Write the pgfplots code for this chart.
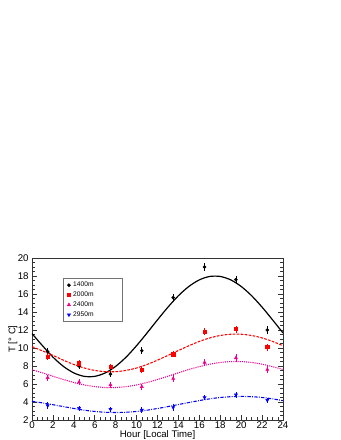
\documentclass[border=0pt]{standalone}
\usepackage{fontspec}
\setmainfont{Liberation Sans}
\usepackage{pgfplots}
\pgfplotsset{compat=1.18}
\begin{document}
\begin{tikzpicture}
\begin{axis}[
  at={(0,0)}, anchor=south west,
  scale only axis, width=188.25pt, height=121.5pt,
  xmin=0, xmax=24, ymin=2, ymax=20,
  xtick={0,2,...,24}, ytick={2,4,...,20},
  minor x tick num=3, minor y tick num=3,
  tick align=inside,
  major tick length=4pt, minor tick length=2pt,
  xtick pos=bottom, ytick pos=both,
  tick style={black!80, line width=0.4pt},
  axis line style={black!80, line width=0.6pt},
  /pgf/number format/assume math mode=true,
  ticklabel style={font=\fontsize{7.3}{8}\selectfont},
  xticklabel style={yshift=2.5pt},
  yticklabel style={xshift=1pt},
  xlabel={Hour [Local Time]},
  ylabel={T [° C]},
  label style={font=\fontsize{7.2}{8}\selectfont},
  xlabel style={yshift=5pt},
  ylabel style={yshift=-6.5pt},
  legend style={at={(0.1235,0.877)}, anchor=north west,
    font=\fontsize{5}{5.5}\selectfont, draw=black!55, line width=0.5pt,
    inner xsep=3pt, inner ysep=1.5pt, row sep=0pt,
    nodes={inner ysep=1.2pt},
    cells={anchor=west}, text width=32pt},
  legend cell align=left,
  every axis plot/.append style={error bars/error mark=none},
]
% data points
\addplot[only marks, mark=*, mark size=1.1pt, black,
  error bars/.cd, y dir=both, y explicit, error bar style={black, line width=0.5pt}]
  coordinates {(1.5,9.6)+-(0,0.35) (4.5,8.0)+-(0,0.35) (7.5,7.1)+-(0,0.35) (10.5,9.7)+-(0,0.4)
               (13.5,15.6)+-(0,0.35) (16.5,19.0)+-(0,0.4) (19.5,17.6)+-(0,0.4) (22.5,12.0)+-(0,0.4)};
\addlegendentry{1400m}
\addplot[only marks, mark=square*, mark size=1.2pt, red,
  error bars/.cd, y dir=both, y explicit, error bar style={red, line width=0.5pt}]
  coordinates {(1.5,9.0)+-(0,0.35) (4.5,8.3)+-(0,0.35) (7.5,7.9)+-(0,0.35) (10.5,7.6)+-(0,0.35)
               (13.5,9.3)+-(0,0.35) (16.5,11.8)+-(0,0.4) (19.5,12.1)+-(0,0.4) (22.5,10.1)+-(0,0.4)};
\addlegendentry{2000m}
\addplot[only marks, mark=triangle*, mark size=1.3pt, magenta,
  error bars/.cd, y dir=both, y explicit, error bar style={magenta, line width=0.5pt}]
  coordinates {(1.5,6.7)+-(0,0.35) (4.5,6.2)+-(0,0.35) (7.5,5.9)+-(0,0.35) (10.5,5.7)+-(0,0.35)
               (13.5,6.6)+-(0,0.35) (16.5,8.4)+-(0,0.4) (19.5,8.9)+-(0,0.4) (22.5,7.6)+-(0,0.35)};
\addlegendentry{2400m}
\addplot[only marks, mark=triangle*, mark options={rotate=180}, mark size=1.3pt, blue,
  error bars/.cd, y dir=both, y explicit, error bar style={blue, line width=0.5pt}]
  coordinates {(1.5,3.6)+-(0,0.35) (4.5,3.3)+-(0,0.3) (7.5,3.2)+-(0,0.3) (10.5,3.1)+-(0,0.3)
               (13.5,3.4)+-(0,0.4) (16.5,4.5)+-(0,0.3) (19.5,4.8)+-(0,0.35) (22.5,4.2)+-(0,0.3)};
\addlegendentry{2950m}
% fit curves
\addplot[black, line width=0.9pt, smooth, no marks, forget plot] coordinates {
 (0,11.6) (1,10.26) (2,8.99) (3,7.96) (4,7.23) (5,6.85) (6,6.85) (7,7.23) (8,7.96) (9,8.99)
 (10,10.26) (11,11.67) (12,13.13) (13,14.54) (14,15.81) (15,16.84) (16,17.57) (17,17.95)
 (18,17.95) (19,17.57) (20,16.84) (21,15.81) (22,14.54) (23,13.13) (24,11.67)};
\addplot[red, line width=0.8pt, dash pattern=on 2pt off 1pt, smooth, no marks, forget plot] coordinates {
 (0,10.15) (1,9.68) (2,9.18) (3,8.65) (4,8.17) (5,7.78) (6,7.51) (7,7.37) (8,7.37) (9,7.51)
 (10,7.78) (11,8.17) (12,8.65) (13,9.18) (14,9.72) (15,10.25) (16,10.73) (17,11.12)
 (18,11.39) (19,11.53) (20,11.53) (21,11.39) (22,11.12) (23,10.73) (24,10.25)};
\addplot[magenta, line width=0.8pt, dash pattern=on 0.8pt off 0.8pt, smooth, no marks, forget plot] coordinates {
 (0,7.58) (1,7.24) (2,6.86) (3,6.50) (4,6.17) (5,5.90) (6,5.71) (7,5.61) (8,5.61) (9,5.71)
 (10,5.90) (11,6.17) (12,6.50) (13,6.86) (14,7.24) (15,7.61) (16,7.93) (17,8.20)
 (18,8.39) (19,8.49) (20,8.49) (21,8.39) (22,8.20) (23,7.93) (24,7.61)};
\addplot[blue, line width=0.8pt, dash pattern=on 2.5pt off 1pt on 0.6pt off 1pt, smooth, no marks, forget plot] coordinates {
 (0,4.08) (1,3.90) (2,3.70) (3,3.49) (4,3.28) (5,3.09) (6,2.95) (7,2.86) (8,2.83) (9,2.86)
 (10,2.95) (11,3.09) (12,3.28) (13,3.49) (14,3.72) (15,3.94) (16,4.16) (17,4.35)
 (18,4.50) (19,4.59) (20,4.62) (21,4.59) (22,4.50) (23,4.35) (24,4.15)};
\end{axis}
\pgfresetboundingbox
\path[use as bounding box] (-24pt,-15pt) rectangle (231pt,315pt);
\end{tikzpicture}
\end{document}
